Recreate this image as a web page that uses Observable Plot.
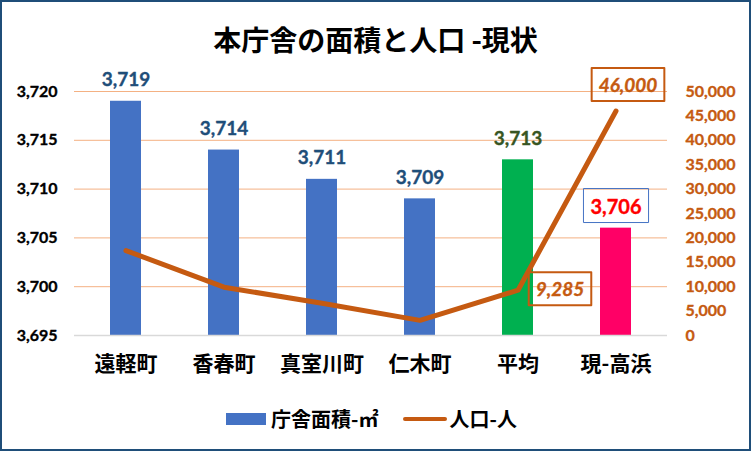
<!DOCTYPE html>
<html><head><meta charset="utf-8">
<script src="https://cdn.jsdelivr.net/npm/d3@7"></script>
<script src="https://cdn.jsdelivr.net/npm/@observablehq/plot@0.6"></script>
<style>
body{margin:0;background:#fff}
#wrap{position:relative;width:751px;height:451px;overflow:hidden;background:#fff;font-family:"Noto Sans CJK JP","Noto Sans",sans-serif}
#frame{position:absolute;left:0;top:0;width:751px;height:451px;box-sizing:border-box;border:2px solid #1F4E79;pointer-events:none}
#title{position:absolute;left:0;top:20px;width:751px;text-align:center;font-size:28px;font-weight:bold;line-height:38px;color:#000}
.layer{position:absolute;left:0;top:0}
#legend{position:absolute;left:-4px;top:404px;width:751px;display:flex;justify-content:center;align-items:center;font-size:20px;font-weight:bold;color:#000;line-height:30px}
.sw-bar{width:40px;height:12px;background:#4472C4;margin-right:5px}
.sw-line{width:44px;height:4px;background:#C55A11;border-radius:2px;margin-left:24px;margin-right:3px}
</style></head>
<body>
<div id="wrap">
  <div id="title">本庁舎の面積と人口 -現状</div>
  <div id="legend"><div class="sw-bar"></div><span>庁舎面積-㎡</span><div class="sw-line"></div><span>人口-人</span></div>
  <div id="frame"></div>
</div>
<script>
const names = ["遠軽町", "香春町", "真室川町", "仁木町", "平均", "現-高浜"];
const area = [3719, 3714, 3711, 3709, 3713, 3706];
const population = [17400, 9900, 6600, 3100, 9285, 46000];
const areaTicks = [3695, 3700, 3705, 3710, 3715, 3720];
const popTicks = [0, 5000, 10000, 15000, 20000, 25000, 30000, 35000, 40000, 45000, 50000];

// styles (not data)
const barColor = {"遠軽町":"#4472C4","香春町":"#4472C4","真室川町":"#4472C4","仁木町":"#4472C4","平均":"#00B050","現-高浜":"#FF0066"};
const labelColor = {"遠軽町":"#1F4E79","香春町":"#1F4E79","真室川町":"#1F4E79","仁木町":"#1F4E79","平均":"#375623","現-高浜":"#FF0000"};

const data = names.map((name, i) => ({name, area: area[i], pop: population[i]}));
const fmt = d3.format(",");
const NUM = "Lato, 'Open Sans', sans-serif";
const JP = "'Noto Sans CJK JP', sans-serif";
const heavy = c => ({fill: c, stroke: c, strokeWidth: 0.35});

const common = {
  width: 751, height: 451,
  marginLeft: 74, marginRight: 84, marginTop: 91, marginBottom: 116,
  x: {type: "band", domain: names, paddingInner: 0.686, paddingOuter: 0.343, axis: null},
  color: {type: "identity"},
  style: {background: "transparent", overflow: "visible"}
};

const isLast = d => d.name === "現-高浜";
const isAvg = d => d.name === "平均";

const plot1 = Plot.plot({
  ...common,
  y: {domain: [3695, 3720], axis: null},
  marks: [
    Plot.ruleY(areaTicks.filter(d => d !== 3695), {stroke: "#F4B183", strokeWidth: 1}),
    Plot.barY(data, {x: "name", y1: 3695, y2: "area", fill: d => barColor[d.name]}),
    Plot.ruleY([3695], {stroke: "#D9D9D9", strokeWidth: 1.5}),
    Plot.text(areaTicks, {y: d => d, frameAnchor: "left", dx: -17, textAnchor: "end", text: d => fmt(d),
      fontFamily: NUM, fontSize: 16, fontWeight: "bold", ...heavy("#000")}),
    Plot.text(names, {x: d => d, frameAnchor: "bottom", dy: 35, text: d => d,
      fontFamily: JP, fontSize: 21, fontWeight: "bold", fill: "#000"}),
    Plot.text(data, {filter: d => !isLast(d), x: "name", y: "area", dy: -21, text: d => fmt(d.area),
      fill: d => labelColor[d.name], stroke: d => labelColor[d.name], strokeWidth: 0.35,
      fontFamily: NUM, fontSize: 19, fontWeight: "bold"}),
    Plot.text(data, {filter: isLast, x: "name", y: "area", dy: -21, text: d => fmt(d.area),
      fill: d => labelColor[d.name], stroke: d => labelColor[d.name], strokeWidth: 0.35,
      fontFamily: NUM, fontSize: 20, fontWeight: "bold"})
  ]
});

const plot2 = Plot.plot({
  ...common,
  y: {domain: [0, 50000], axis: null},
  marks: [
    Plot.lineY(data, {x: "name", y: "pop", stroke: "#C55A11", strokeWidth: 5, strokeLinecap: "round", strokeLinejoin: "round"}),
    Plot.text(popTicks, {y: d => d, frameAnchor: "right", dx: 18, textAnchor: "start", text: d => fmt(d),
      fontFamily: NUM, fontSize: 16, fontWeight: "bold", ...heavy("#C55A11")}),
    Plot.text(data, {filter: isAvg, x: "name", y: "pop", dx: 42, dy: 0, text: d => fmt(d.pop),
      fontFamily: NUM, fontSize: 19, fontWeight: "bold", fontStyle: "italic", ...heavy("#C55A11")}),
    Plot.text(data, {filter: isLast, x: "name", y: "pop", dx: 12, dy: -25, text: d => fmt(d.pop),
      fontFamily: NUM, fontSize: 19, fontWeight: "bold", fontStyle: "italic", ...heavy("#C55A11")})
  ]
});

const wrap = document.getElementById("wrap");
const frame = document.getElementById("frame");
[plot1, plot2].forEach(p => { p.classList.add("layer"); wrap.insertBefore(p, frame); });

// draw a box around the label texts whose content matches
function boxTexts(svg, contents, stroke, width) {
  const want = new Set(contents);
  Array.from(svg.querySelectorAll("text")).forEach(t => {
    if (!want.has(t.textContent)) return;
    const b = t.getBBox();
    const padX = 7, padY = 5;
    const r = document.createElementNS("http://www.w3.org/2000/svg", "rect");
    r.setAttribute("x", b.x - padX);
    r.setAttribute("y", b.y - padY);
    r.setAttribute("width", b.width + 2 * padX);
    r.setAttribute("height", b.height + 2 * padY);
    r.setAttribute("fill", "none");
    r.setAttribute("stroke", stroke);
    r.setAttribute("stroke-width", width);
    const tr = t.getAttribute("transform");
    if (tr) r.setAttribute("transform", tr);
    t.parentNode.insertBefore(r, t);
  });
}
boxTexts(plot1, data.filter(isLast).map(d => fmt(d.area)), "#4472C4", 1);
boxTexts(plot2, data.filter(d => isAvg(d) || isLast(d)).map(d => fmt(d.pop)), "#C55A11", 2);
</script>
</body></html>
